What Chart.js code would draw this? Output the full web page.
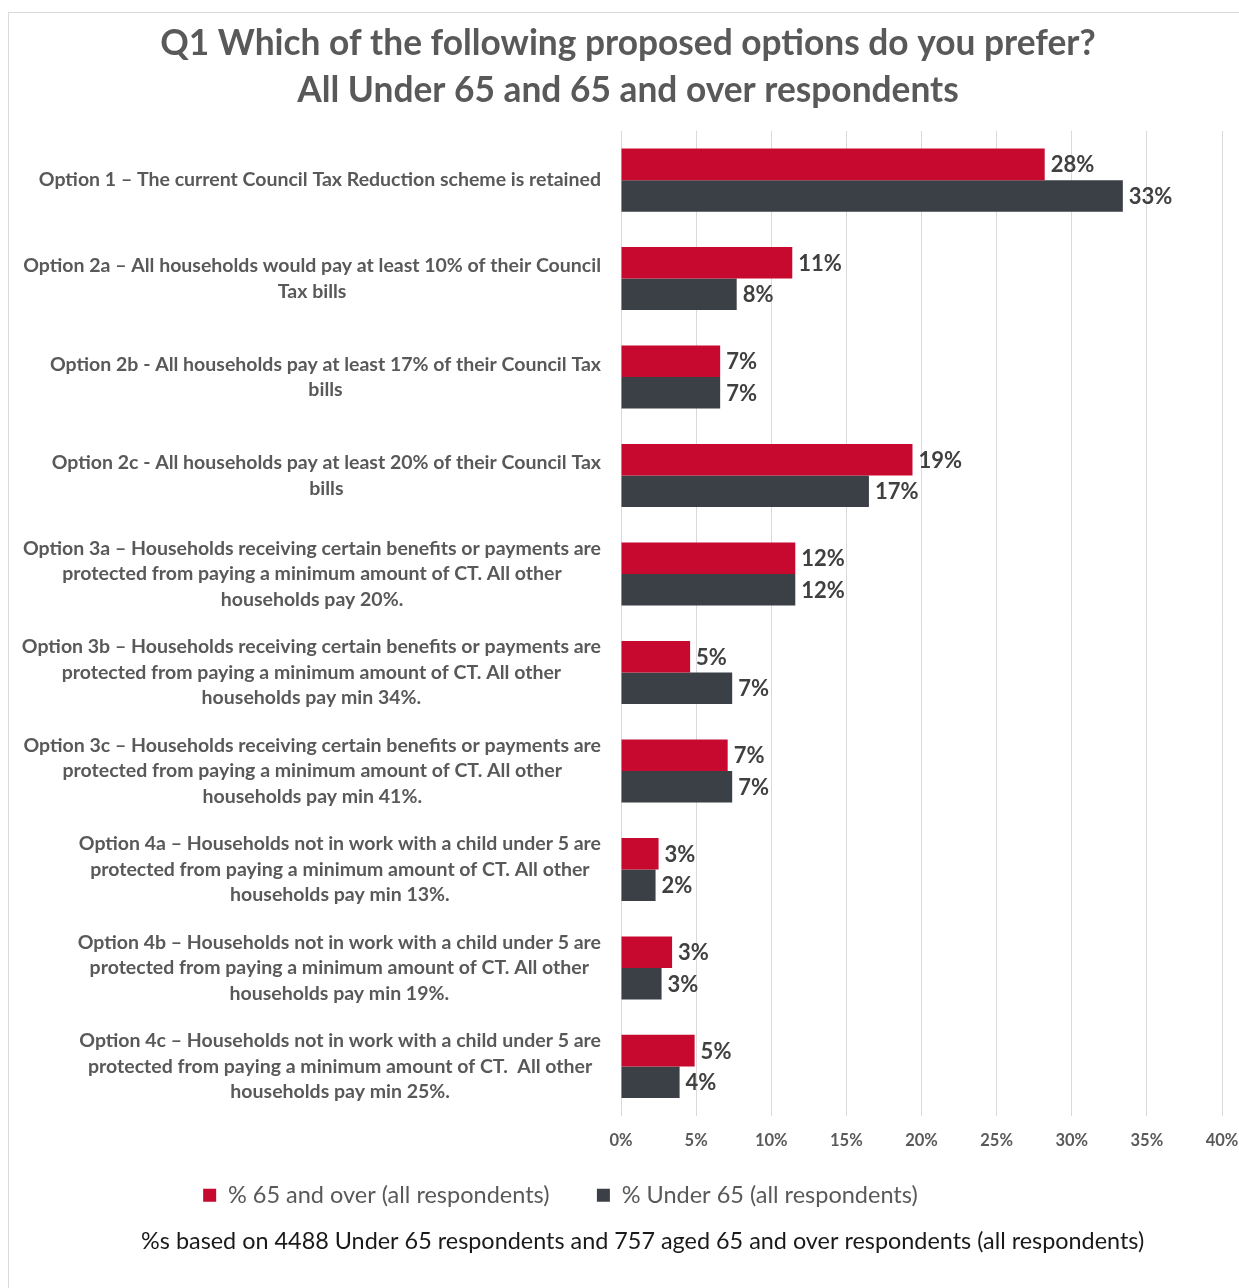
<!DOCTYPE html>
<html>
<head>
<meta charset="utf-8">
<script src="https://cdn.jsdelivr.net/npm/chart.js@4.4.1/dist/chart.umd.min.js"></script>
<style>
  html, body { margin: 0; padding: 0; background: #ffffff; }
  #frame { position: absolute; left: 8px; top: 12px; width: 1240px; height: 1300px; border: 1px solid #d9d9d9; box-sizing: border-box; }
  #wrap { position: absolute; left: 0; top: 0; width: 1239px; height: 1288px; }
</style>
</head>
<body>
<div id="frame"></div>
<div id="wrap"><canvas id="c" width="1239" height="1288"></canvas></div>
<script>
// ---------- DATA ----------
const categories = [
  ["Option 1 \u2013 The current Council Tax Reduction scheme is retained"],
  ["Option 2a \u2013 All households would pay at least 10% of their Council", "Tax bills"],
  ["Option 2b - All households pay at least 17% of their Council Tax", "bills"],
  ["Option 2c - All households pay at least 20% of their Council Tax", "bills"],
  ["Option 3a \u2013 Households receiving certain benefits or payments are", "protected from paying a minimum amount of CT. All other", "households pay 20%."],
  ["Option 3b \u2013 Households receiving certain benefits or payments are", "protected from paying a minimum amount of CT. All other", "households pay min 34%."],
  ["Option 3c \u2013 Households receiving certain benefits or payments are", "protected from paying a minimum amount of CT. All other", "households pay min 41%."],
  ["Option 4a \u2013 Households not in work with a child under 5 are", "protected from paying a minimum amount of CT. All other", "households pay min 13%."],
  ["Option 4b \u2013 Households not in work with a child under 5 are", "protected from paying a minimum amount of CT. All other", "households pay min 19%."],
  ["Option 4c \u2013 Households not in work with a child under 5 are", "protected from paying a minimum amount of CT.  All other", "households pay min 25%."]
];
const over65 = [28.2, 11.4, 6.6, 19.4, 11.6, 4.6, 7.1, 2.5, 3.4, 4.9];
const under65 = [33.4, 7.7, 6.6, 16.5, 11.6, 7.4, 7.4, 2.3, 2.7, 3.9];
const seriesNames = ["% 65 and over (all respondents)", "% Under 65 (all respondents)"];
const xTicks = [0, 5, 10, 15, 20, 25, 30, 35, 40];
const titleLines = ["Q1 Which of the following proposed options do you prefer?", "All Under 65 and 65 and over respondents"];
const footnote = "%s based on 4488 Under 65 respondents and 757 aged 65 and over respondents (all respondents)";

// ---------- STYLE ----------
const FONT = "Lato, 'Open Sans', sans-serif";
const RED = "#C8092F";
const DARK = "#3B3F46";
const GREY_TXT = "#595959";

const categoryLabelsPlugin = {
  id: 'categoryLabels',
  afterDraw(chart) {
    const ctx = chart.ctx;
    const ys = chart.scales.y;
    const xs = chart.scales.x;
    const rightEdge = xs.left - 20;
    const lh = 25.5;
    ctx.save();
    ctx.font = "bold 19.5px " + FONT;
    ctx.fillStyle = GREY_TXT;
    ctx.textAlign = 'center';
    ctx.textBaseline = 'middle';
    categories.forEach((lines, i) => {
      const y = ys.getPixelForValue(i);
      let w = 0;
      lines.forEach(l => { w = Math.max(w, ctx.measureText(l).width); });
      const cx = rightEdge - w / 2;
      const y0 = y - (lines.length - 1) * lh / 2;
      lines.forEach((l, k) => ctx.fillText(l, cx, y0 + k * lh));
    });
    ctx.restore();
  }
};

const valueLabelsPlugin = {
  id: 'valueLabels',
  afterDatasetsDraw(chart) {
    const ctx = chart.ctx;
    ctx.save();
    ctx.font = "bold 22px " + FONT;
    ctx.fillStyle = "#404040";
    ctx.textAlign = 'left';
    ctx.textBaseline = 'middle';
    chart.data.datasets.forEach((ds, di) => {
      const meta = chart.getDatasetMeta(di);
      meta.data.forEach((bar, i) => {
        ctx.fillText(Math.round(ds.data[i]) + "%", bar.x + 6, bar.y + 1);
      });
    });
    ctx.restore();
  }
};

new Chart(document.getElementById('c'), {
  type: 'bar',
  data: {
    labels: categories,
    datasets: [
      { label: seriesNames[0], data: over65, backgroundColor: RED, borderWidth: 0 },
      { label: seriesNames[1], data: under65, backgroundColor: DARK, borderWidth: 0 }
    ]
  },
  options: {
    indexAxis: 'y',
    responsive: false,
    animation: false,
    devicePixelRatio: 1,
    layout: { padding: { top: 0, left: 17, right: 0, bottom: 23 } },
    datasets: { bar: { categoryPercentage: 0.64, barPercentage: 1.0 } },
    scales: {
      x: {
        min: 0, max: 40,
        afterBuildTicks(scale) { scale.ticks = xTicks.map(v => ({ value: v })); },
        afterFit(scale) { scale.paddingRight = 17; },
        grid: { color: '#d9d9d9', lineWidth: 1, drawTicks: false },
        border: { display: false },
        ticks: {
          callback: v => v + '%',
          font: { family: FONT, size: 16.5, weight: 'bold' },
          color: GREY_TXT,
          padding: 15
        }
      },
      y: {
        grid: { display: false },
        border: { display: false },
        ticks: { display: false },
        afterFit(scale) { scale.width = 604; }
      }
    },
    plugins: {
      title: {
        display: true,
        text: titleLines,
        color: GREY_TXT,
        font: { family: FONT, size: 35.3, weight: 'bold', lineHeight: 1.33 },
        padding: { top: 20, bottom: 17 }
      },
      subtitle: {
        display: true,
        position: 'bottom',
        text: "\u2003\u2002" + footnote,
        color: '#1a1a1a',
        font: { family: FONT, size: 23.4, weight: 'normal', lineHeight: 1.2 },
        padding: { top: 10, bottom: 10 }
      },
      legend: {
        position: 'bottom',
        labels: {
          color: GREY_TXT,
          font: { family: FONT, size: 23.5 },
          boxWidth: 13,
          boxHeight: 13,
          padding: 18,
          generateLabels(chart) {
            const items = Chart.defaults.plugins.legend.labels.generateLabels(chart);
            items.forEach((it, i) => {
              it.lineWidth = 0;
              if (i === 0) it.text = it.text + "\u2003\u2002";
              if (i === 1) it.text = it.text + "\u2003\u2003\u2003\u2003\u2003\u2003\u2003\u2002";
            });
            return items;
          }
        }
      },
      tooltip: { enabled: false }
    }
  },
  plugins: [categoryLabelsPlugin, valueLabelsPlugin]
});
</script>
</body>
</html>
